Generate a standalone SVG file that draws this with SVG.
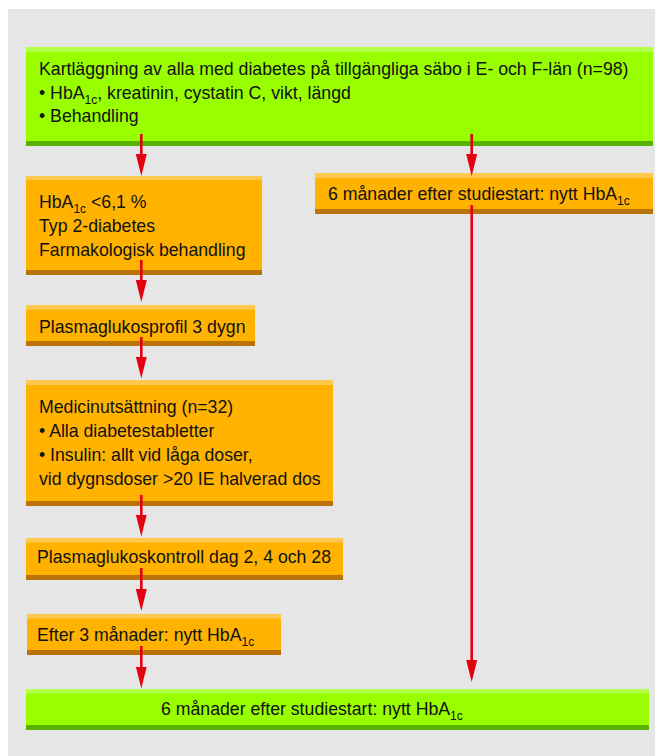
<svg xmlns="http://www.w3.org/2000/svg" width="655" height="756" viewBox="0 0 655 756">
<style>
.bg{fill:#e6e6e6}
.g{fill:#99ff00}.gl{fill:#b3ff4a}.gd{fill:#58b400}
.o{fill:#ffb300}.ol{fill:#ffc94f}.od{fill:#ba7308}
text{font-family:"Liberation Sans",Arial,sans-serif;font-size:17.7px;fill:#111}
.sub{font-size:12px}
.arr{stroke:#e3000f;stroke-width:2.6;fill:none}
</style>
<defs>
<marker id="ah" viewBox="0 0 22 11" refX="1" refY="5.5" markerWidth="22" markerHeight="11" markerUnits="userSpaceOnUse" orient="auto">
<path d="M0,0 L22,5.5 L0,11 z" fill="#e3000f"/>
</marker>
</defs>
<rect class="bg" x="8" y="9" width="647" height="747"/>

<g id="n-kartlaggning">
<rect class="g" x="26" y="47" width="627" height="99"/>
<rect class="gl" x="26" y="47" width="627" height="5"/>
<rect class="gd" x="26" y="141" width="627" height="5"/>
<text x="39" y="75">Kartläggning av alla med diabetes på tillgängliga säbo i E- och F-län (n=98)</text>
<text x="39" y="98.5">• HbA<tspan class="sub" dy="5">1c</tspan><tspan dy="-5">, kreatinin, cystatin C, vikt, längd</tspan></text>
<text x="39" y="122">• Behandling</text>
</g>

<g id="n-hba1c">
<rect class="o" x="26" y="176" width="236" height="99"/>
<rect class="ol" x="26" y="176" width="236" height="4"/>
<rect class="od" x="26" y="270" width="236" height="5"/>
<text x="39" y="207.5">HbA<tspan class="sub" dy="5">1c</tspan><tspan dy="-5"> &lt;6,1 %</tspan></text>
<text x="39" y="231.5">Typ 2-diabetes</text>
<text x="39" y="255.5">Farmakologisk behandling</text>
</g>

<g id="n-6man-right">
<rect class="o" x="315" y="173" width="338" height="41"/>
<rect class="ol" x="315" y="173" width="338" height="5"/>
<rect class="od" x="315" y="209" width="338" height="5"/>
<text x="328" y="200">6 månader efter studiestart: nytt HbA<tspan class="sub" dy="5">1c</tspan></text>
</g>

<g id="n-profil">
<rect class="o" x="26" y="305" width="229" height="41"/>
<rect class="ol" x="26" y="305" width="229" height="4.5"/>
<rect class="od" x="26" y="341" width="229" height="5"/>
<text x="39" y="332.5">Plasmaglukosprofil 3 dygn</text>
</g>

<g id="n-medicin">
<rect class="o" x="26" y="380" width="307" height="126"/>
<rect class="ol" x="26" y="380" width="307" height="5"/>
<rect class="od" x="26" y="501" width="307" height="5"/>
<text x="39" y="413">Medicinutsättning (n=32)</text>
<text x="39" y="437">• Alla diabetestabletter</text>
<text x="39" y="461">• Insulin: allt vid låga doser,</text>
<text x="39" y="484.5">vid dygnsdoser &gt;20 IE halverad dos</text>
</g>

<g id="n-kontroll">
<rect class="o" x="26" y="538" width="317" height="42"/>
<rect class="ol" x="26" y="538" width="317" height="4.5"/>
<rect class="od" x="26" y="575" width="317" height="5"/>
<text x="37" y="563">Plasmaglukoskontroll dag 2, 4 och 28</text>
</g>

<g id="n-3man">
<rect class="o" x="27" y="614" width="254" height="41"/>
<rect class="ol" x="27" y="614" width="254" height="4.5"/>
<rect class="od" x="27" y="650" width="254" height="5"/>
<text x="37" y="641">Efter 3 månader: nytt HbA<tspan class="sub" dy="5">1c</tspan></text>
</g>

<g id="n-6man-bottom">
<rect class="g" x="26" y="689" width="623" height="41"/>
<rect class="gl" x="26" y="689" width="623" height="4.5"/>
<rect class="gd" x="26" y="725" width="623" height="5"/>
<text x="161" y="714.5">6 månader efter studiestart: nytt HbA<tspan class="sub" dy="5">1c</tspan></text>
</g>

<g id="connectors">
<line class="arr" x1="141.3" y1="134" x2="141.3" y2="155" marker-end="url(#ah)"/>
<line class="arr" x1="471.7" y1="134" x2="471.7" y2="155" marker-end="url(#ah)"/>
<line class="arr" x1="141.3" y1="260" x2="141.3" y2="281" marker-end="url(#ah)"/>
<line class="arr" x1="141.3" y1="337" x2="141.3" y2="357.5" marker-end="url(#ah)"/>
<line class="arr" x1="141.3" y1="495" x2="141.3" y2="515.5" marker-end="url(#ah)"/>
<line class="arr" x1="141.3" y1="568" x2="141.3" y2="590" marker-end="url(#ah)"/>
<line class="arr" x1="141.3" y1="646" x2="141.3" y2="667.5" marker-end="url(#ah)"/>
<line class="arr" x1="471.7" y1="205" x2="471.7" y2="661" marker-end="url(#ah)"/>
</g>
</svg>
